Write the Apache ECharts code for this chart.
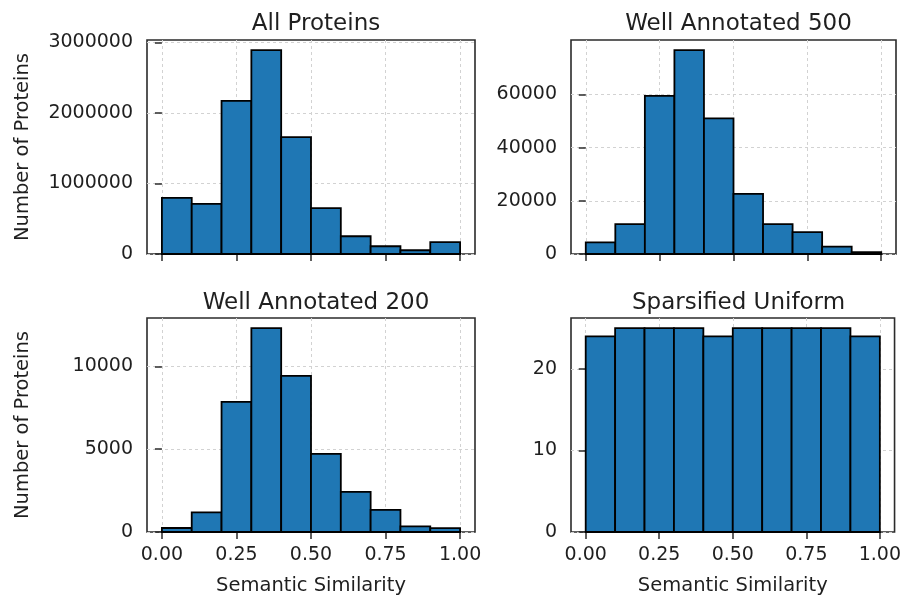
<!DOCTYPE html>
<html>
<head>
<meta charset="utf-8">
<script src="https://cdn.jsdelivr.net/npm/echarts@6/dist/echarts.min.js"></script>
<style>
  html, body { margin: 0; padding: 0; background: #fff; }
  #chart { width: 904px; height: 603px; }
</style>
</head>
<body>
<div id="chart"></div>
<script>
// Histogram bin edges shared by every panel
const binEdges = [0, 0.1, 0.2, 0.3, 0.4, 0.5, 0.6, 0.7, 0.8, 0.9, 1.0];

// Counts per bin
const allProteins = [795000, 712000, 2170000, 2890000, 1657000, 651000, 252000, 110000, 53000, 167000];
const wellAnnotated500 = [4400, 11200, 59400, 76600, 51000, 22600, 11200, 8200, 2800, 650];
const wellAnnotated200 = [240, 1190, 7850, 12300, 9420, 4710, 2420, 1330, 340, 230];
const sparsifiedUniform = [24, 25, 25, 25, 24, 25, 25, 25, 25, 24];

// Panel titles
const panelTitles = ['All Proteins', 'Well Annotated 500', 'Well Annotated 200', 'Sparsified Uniform'];

// Tick values
const xTicks = [0, 0.25, 0.5, 0.75, 1.0];
const yTicksAll = [0, 1000000, 2000000, 3000000];
const yTicks500 = [0, 20000, 40000, 60000];
const yTicks200 = [0, 5000, 10000];
const yTicksUniform = [0, 10, 20];

const xLabelText = 'Semantic Similarity';
const yLabelText = 'Number of Proteins';

const panelValues = [allProteins, wellAnnotated500, wellAnnotated200, sparsifiedUniform];
const panelYTicks = [yTicksAll, yTicks500, yTicks200, yTicksUniform];

// Pixel layout of the 2x2 axes boxes
const boxes = [
  { left: 147, right: 429, top: 40, bottom: 349, cx: 311, titleTop: 8, xLabels: false, yName: true },
  { left: 571, right: 8, top: 40, bottom: 349, cx: 733.5, titleTop: 8, xLabels: false, yName: false },
  { left: 147, right: 429, top: 318, bottom: 71, cx: 311, titleTop: 287, xLabels: true, yName: true },
  { left: 571, right: 8, top: 318, bottom: 71, cx: 733.5, titleTop: 287, xLabels: true, yName: false }
];

const FONT = 'DejaVu Sans';
const TEXT = '#1f1f1f';
const SPINE = '#2b2b2b';

const grid = [], xAxis = [], yAxis = [], series = [], title = [];

boxes.forEach((b, i) => {
  grid.push({
    left: b.left, right: b.right, top: b.top, bottom: b.bottom,
    show: true, borderColor: SPINE, borderWidth: 1.6, backgroundColor: 'transparent',
    containLabel: false
  });
  title.push({
    text: panelTitles[i], left: b.cx, top: b.titleTop, textAlign: 'center',
    textStyle: { fontFamily: FONT, fontSize: 23, fontWeight: 'normal', color: TEXT }
  });
  xAxis.push({
    type: 'value', gridIndex: i, min: -0.05, max: 1.05,
    axisLine: { show: false },
    axisTick: { show: true, inside: false, length: 7, lineStyle: { color: SPINE, width: 1.5 }, customValues: xTicks },
    axisLabel: {
      show: b.xLabels, customValues: xTicks, margin: 14,
      fontFamily: FONT, fontSize: 19, color: TEXT,
      formatter: v => v.toFixed(2)
    },
    splitLine: { show: true, lineStyle: { color: '#d2d2d2', width: 1, type: [3, 3] } },
    name: b.xLabels ? xLabelText : '',
    nameLocation: 'middle', nameGap: 44,
    nameTextStyle: { fontFamily: FONT, fontSize: 19.5, color: TEXT }
  });
  const vals = panelValues[i];
  yAxis.push({
    type: 'value', gridIndex: i, min: 0, max: Math.max(...vals) * 1.05,
    axisLine: { show: false },
    axisTick: { show: true, inside: false, length: 7, lineStyle: { color: SPINE, width: 1.5 }, customValues: panelYTicks[i] },
    axisLabel: {
      show: true, customValues: panelYTicks[i], margin: 14,
      fontFamily: FONT, fontSize: 19, color: TEXT,
      formatter: v => String(v)
    },
    splitLine: { show: true, lineStyle: { color: '#d2d2d2', width: 1, type: [3, 3] } },
    name: b.yName ? yLabelText : '',
    nameLocation: 'middle', nameGap: 114,
    nameTextStyle: { fontFamily: FONT, fontSize: 19.5, color: TEXT }
  });
  series.push({
    type: 'custom', xAxisIndex: i, yAxisIndex: i,
    data: vals.map((v, k) => [binEdges[k], binEdges[k + 1], v]),
    encode: { x: [0, 1], y: 2 },
    clip: false,
    renderItem: (params, api) => {
      const p0 = api.coord([api.value(0), 0]);
      const p1 = api.coord([api.value(1), api.value(2)]);
      return {
        type: 'rect',
        shape: { x: p0[0], y: p1[1], width: p1[0] - p0[0], height: p0[1] - p1[1] },
        style: { fill: '#1f77b4', stroke: '#000', lineWidth: 1.8 }
      };
    }
  });
});

const chart = echarts.init(document.getElementById('chart'), null, { renderer: 'canvas' });
chart.setOption({
  animation: false,
  backgroundColor: '#fff',
  title, grid, xAxis, yAxis, series
});
</script>
</body>
</html>
